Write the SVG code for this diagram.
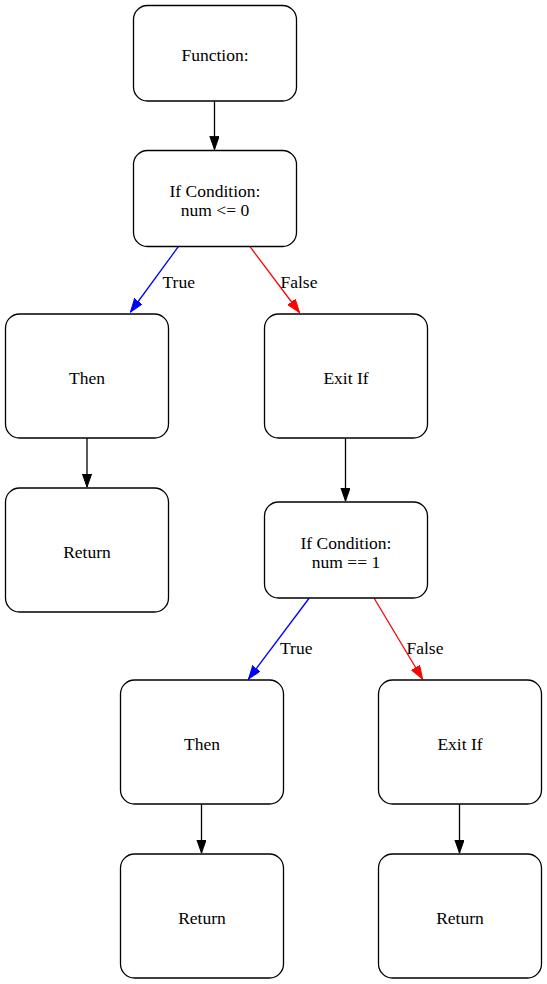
<svg xmlns="http://www.w3.org/2000/svg" width="547" height="984" viewBox="0 0 547 984">
<defs>
<marker id="ab" markerWidth="14" markerHeight="10" refX="13.3" refY="4.7" orient="auto" markerUnits="userSpaceOnUse"><path d="M0,0 L13.3,4.7 L0,9.4 Z" fill="#000" stroke="#000"/></marker>
<marker id="ablue" markerWidth="14" markerHeight="10" refX="13.3" refY="4.7" orient="auto" markerUnits="userSpaceOnUse"><path d="M0,0 L13.3,4.7 L0,9.4 Z" fill="#00f" stroke="#00f"/></marker>
<marker id="ared" markerWidth="14" markerHeight="10" refX="13.3" refY="4.7" orient="auto" markerUnits="userSpaceOnUse"><path d="M0,0 L13.3,4.7 L0,9.4 Z" fill="#f00" stroke="#f00"/></marker>
</defs>
<style>
.n rect{fill:#fff;stroke:#000;stroke-width:1.3}
text{font-family:"Liberation Serif","Times New Roman",serif;font-size:17.5px;fill:#000}
.n text{text-anchor:middle}
.e{fill:none;stroke-width:1.3}
</style>
<rect width="547" height="984" fill="#fff"/>
<g id="connectors">
<path class="e" d="M214.5,101 L214.5,149.5" stroke="#000" marker-end="url(#ab)"/>
<path class="e" d="M178.3,246.7 L130.5,312" stroke="#00f" marker-end="url(#ablue)"/>
<text x="162.5" y="287.5">True</text>
<path class="e" d="M250,246.7 L299.5,312.5" stroke="#f00" marker-end="url(#ared)"/>
<text x="280.5" y="287.5">False</text>
<path class="e" d="M87,438 L87,487" stroke="#000" marker-end="url(#ab)"/>
<path class="e" d="M345.5,438 L345.5,501" stroke="#000" marker-end="url(#ab)"/>
<path class="e" d="M309.3,598 L248.5,679" stroke="#00f" marker-end="url(#ablue)"/>
<text x="280" y="654">True</text>
<path class="e" d="M374,598 L422.5,679" stroke="#f00" marker-end="url(#ared)"/>
<text x="406.5" y="654">False</text>
<path class="e" d="M201.5,804 L201.5,853" stroke="#000" marker-end="url(#ab)"/>
<path class="e" d="M459.5,804 L459.5,853" stroke="#000" marker-end="url(#ab)"/>
</g>
<g id="n1" class="n"><rect x="133.5" y="5.5" width="163" height="95.5" rx="14"/><text x="215" y="60.5">Function:</text></g>
<g id="n2" class="n"><rect x="133.5" y="150.5" width="163" height="96" rx="14"/><text x="215" y="196.5">If Condition:</text><text x="215" y="215.5">num &lt;= 0</text></g>
<g id="n3" class="n"><rect x="5.5" y="314" width="163" height="124" rx="14"/><text x="87" y="384">Then</text></g>
<g id="n4" class="n"><rect x="264.5" y="314" width="163" height="124" rx="14"/><text x="346" y="384">Exit If</text></g>
<g id="n5" class="n"><rect x="5.5" y="488" width="163" height="124" rx="14"/><text x="87" y="558">Return</text></g>
<g id="n6" class="n"><rect x="264.5" y="502" width="163" height="96" rx="14"/><text x="346" y="548.5">If Condition:</text><text x="346" y="567.5">num == 1</text></g>
<g id="n7" class="n"><rect x="120.5" y="680" width="163" height="124" rx="14"/><text x="202" y="750">Then</text></g>
<g id="n8" class="n"><rect x="378.5" y="680" width="163" height="124" rx="14"/><text x="460" y="750">Exit If</text></g>
<g id="n9" class="n"><rect x="120.5" y="854" width="163" height="124" rx="14"/><text x="202" y="924">Return</text></g>
<g id="n10" class="n"><rect x="378.5" y="854" width="163" height="124" rx="14"/><text x="460" y="924">Return</text></g>
</svg>
